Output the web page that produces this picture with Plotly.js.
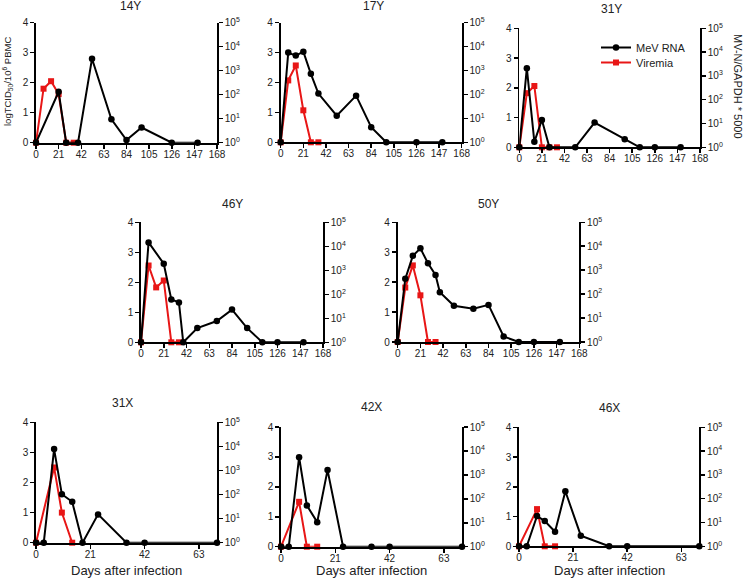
<!DOCTYPE html>
<html><head><meta charset="utf-8">
<script src="https://cdn.plot.ly/plotly-3.0.1.min.js"></script>
<style>html,body{margin:0;padding:0;background:#fff}#chart{width:744px;height:581px}</style>
</head><body><div id="chart"></div>
<script>
// ---------- DATA ----------
const panelNames = ['14Y','17Y','31Y','46Y','50Y','31X','42X','46X'];

// MeV RNA (MV-N/GAPDH * 5000, right log axis)
const rnaDays14Y = [0,21,28,39,52,70,84,98,126,150];
const rna14Y     = [1,133,1,1,3162,9.4,1.3,4.3,1,1];
const rnaDays17Y = [0,7,14,21,28,35,52,70,84,98,126,150];
const rna17Y     = [1,5623,4217,6131,729,109,13,89,4.3,1,1,1];
const rnaDays31Y = [0,7,14,21,28,52,70,98,112,126,150];
const rna31Y     = [1,2113,1.7,14.1,1,1,10.9,2.2,1,1,1];
const rnaDays46Y = [0,7,21,28,35,39,52,70,84,98,112,126,150];
const rna46Y     = [1,14537,1884,61,46,1,3.9,7.7,23,3.9,1,1,1];
const rnaDays50Y = [0,7,14,21,28,35,39,52,70,84,98,112,126,150];
const rna50Y     = [1,434,3981,8175,1939,631,119,32.5,24.4,35.5,1.7,1,1,1];
const rnaDays31X = [0,3,7,10,14,18,24,35,42,70];
const rna31X     = [1,1,7720,103,50,1,15,1,1,1];
const rnaDays42X = [0,3,7,10,14,18,24,35,42,70];
const rna42X     = [1,1,5464,53,10.6,1585,1,1,1,1];
const rnaDays46X = [0,3,7,10,14,18,24,35,42,70];
const rna46X     = [1,1,18.8,11.5,4.1,205,2.8,1,1,1];

// Viremia (logTCID50/10^6 PBMC, left axis)
const virDays14Y = [0,7,14,21,28,35];
const vir14Y     = [0,1.8,2.05,1.62,0,0];
const virDays17Y = [0,7,14,21,28,35];
const vir17Y     = [0,2.07,2.57,1.07,0,0];
const virDays31Y = [0,7,14,21,28,35];
const vir31Y     = [0,1.82,2.06,0,0,0];
const virDays46Y = [0,7,14,21,28,35];
const vir46Y     = [0,2.56,1.83,2.06,0,0];
const virDays50Y = [0,7,14,21,28,35];
const vir50Y     = [0,1.82,2.56,1.56,0,0];
const virDays31X = [0,7,10,14];
const vir31X     = [0,2.5,1.0,0];
const virDays42X = [0,7,10,14];
const vir42X     = [0,1.5,0,0];
const virDays46X = [0,7,10,14];
const vir46X     = [0,1.25,0,0];

const xTicksLong  = [0,21,42,63,84,105,126,147,168];
const xTicksShort = [0,21,42,63];
const leftTicks   = [0,1,2,3,4];
const rightTickVals = [1,10,100,1000,10000,100000];
const rightTickText = ['10<sup>0</sup>','10<sup>1</sup>','10<sup>2</sup>','10<sup>3</sup>','10<sup>4</sup>','10<sup>5</sup>'];

const seriesNames = ['MeV RNA','Viremia'];
const xTitle = 'Days after infection';
const leftTitle = 'logTCID<sub>50</sub>/10<sup>6</sup> PBMC';
const rightTitle = 'MV-N/GAPDH * 5000';

// ---------- LAYOUT GEOMETRY (pixels) ----------
const W = 744, H = 581;
// [left, right, top, bottom, titleX, titleY, xmax]
const boxes = {
  '14Y':[36,217,22.7,142.7,130,6,168],
  '17Y':[280.7,461.7,22.7,142.3,373,6,168],
  '31Y':[519.3,700,28.3,147.3,611,8.5,168],
  '46Y':[141,323,222.3,342.3,232,204,168],
  '50Y':[397.7,579.3,222.3,342,488,204,168],
  '31X':[36,217,422.3,542.7,122,403,70],
  '42X':[281,462,427,546.7,371,407.3,70],
  '46X':[519,699.3,427.3,546.3,609,407.7,70]
};

const rnaDays = {'14Y':rnaDays14Y,'17Y':rnaDays17Y,'31Y':rnaDays31Y,'46Y':rnaDays46Y,'50Y':rnaDays50Y,'31X':rnaDays31X,'42X':rnaDays42X,'46X':rnaDays46X};
const rnaVals = {'14Y':rna14Y,'17Y':rna17Y,'31Y':rna31Y,'46Y':rna46Y,'50Y':rna50Y,'31X':rna31X,'42X':rna42X,'46X':rna46X};
const virDays = {'14Y':virDays14Y,'17Y':virDays17Y,'31Y':virDays31Y,'46Y':virDays46Y,'50Y':virDays50Y,'31X':virDays31X,'42X':virDays42X,'46X':virDays46X};
const virVals = {'14Y':vir14Y,'17Y':vir17Y,'31Y':vir31Y,'46Y':vir46Y,'50Y':vir50Y,'31X':vir31X,'42X':vir42X,'46X':vir46X};

const FONT = 'Liberation Sans, Arial, Helvetica, sans-serif';
const RED = 'rgb(232,22,22)';
const BLACK = '#000';
const tickFont = {family: FONT, size: 10, color: '#222'};
const legFont = {family: FONT, size: 11, color: '#222'};

const traces = [];
const layout = {
  width: W, height: H,
  margin: {l:0, r:0, t:0, b:0},
  paper_bgcolor: '#fff', plot_bgcolor: 'rgba(0,0,0,0)',
  font: {family: FONT, color: '#222'},
  showlegend: true,
  legend:  {x: 596/W, y: 1-33/H, xanchor: 'left', yanchor: 'top', font: legFont,
            bgcolor: 'rgba(0,0,0,0)', itemwidth: 30},
  legend2: {x: 596/W, y: 1-48/H, xanchor: 'left', yanchor: 'top', font: legFont,
            bgcolor: 'rgba(0,0,0,0)', itemwidth: 30},
  annotations: []
};

panelNames.forEach((p, i) => {
  const b = boxes[p];
  const n = i + 1;
  const nr = i + 9;
  const xa = 'x' + (n === 1 ? '' : n);
  const ya = 'y' + (n === 1 ? '' : n);
  const yr = 'y' + nr;
  const xmax = b[6];
  const xdom = [b[0]/W, b[1]/W];
  const ydom = [1 - b[3]/H, 1 - b[2]/H];

  layout['xaxis' + (n === 1 ? '' : n)] = {
    domain: xdom, anchor: ya, range: [0, xmax],
    tickvals: xmax === 168 ? xTicksLong : xTicksShort,
    ticks: 'outside', ticklen: 4, tickwidth: 1.5, tickcolor: BLACK,
    ticklabelstandoff: -3,
    showline: true, linecolor: BLACK, linewidth: 1.8,
    showgrid: false, zeroline: false, tickfont: tickFont, fixedrange: true
  };
  layout['yaxis' + (n === 1 ? '' : n)] = {
    domain: ydom, anchor: xa, range: [0, 4], tickvals: leftTicks,
    ticks: 'outside', ticklen: 4, tickwidth: 1.5, tickcolor: BLACK,
    showline: true, linecolor: BLACK, linewidth: 1.8,
    showgrid: false, zeroline: false, tickfont: tickFont, fixedrange: true
  };
  layout['yaxis' + nr] = {
    domain: ydom, anchor: xa, overlaying: ya, side: 'right',
    type: 'log', range: [0, 5], tickvals: rightTickVals, ticktext: rightTickText,
    ticks: 'outside', ticklen: 4, tickwidth: 1.5, tickcolor: BLACK,
    showline: true, linecolor: BLACK, linewidth: 1.8,
    showgrid: false, zeroline: false, tickfont: tickFont, fixedrange: true
  };

  traces.push({
    type: 'scatter', mode: 'lines+markers', name: seriesNames[1],
    x: virDays[p], y: virVals[p], xaxis: xa, yaxis: ya,
    line: {color: RED, width: 2}, marker: {symbol: 'square', size: 6, color: RED},
    cliponaxis: false, showlegend: p === '31Y', legend: 'legend2'
  });
  traces.push({
    type: 'scatter', mode: 'lines+markers', name: seriesNames[0],
    x: rnaDays[p], y: rnaVals[p], xaxis: xa, yaxis: yr,
    line: {color: BLACK, width: 2}, marker: {symbol: 'circle', size: 6.5, color: BLACK},
    cliponaxis: false, showlegend: p === '31Y', legend: 'legend'
  });

  layout.annotations.push({
    text: p, xref: 'paper', yref: 'paper', x: b[4]/W, y: 1 - b[5]/H,
    xanchor: 'center', yanchor: 'middle', showarrow: false,
    font: {family: FONT, size: 12, color: '#222'}
  });
  if (xmax === 70) {
    layout.annotations.push({
      text: xTitle, xref: 'paper', yref: 'paper', x: ((b[0]+b[1])/2)/W, y: 1 - 570.5/H,
      xanchor: 'center', yanchor: 'middle', showarrow: false,
      font: {family: FONT, size: 13, color: '#222'}
    });
  }
});

layout.annotations.push({
  text: leftTitle, xref: 'paper', yref: 'paper', x: 8/W, y: 1 - 82/H,
  xanchor: 'center', yanchor: 'middle', textangle: -90, showarrow: false,
  font: {family: FONT, size: 9.5, color: '#222'}
});
layout.annotations.push({
  text: rightTitle, xref: 'paper', yref: 'paper', x: 738/W, y: 1 - 86/H,
  xanchor: 'center', yanchor: 'middle', textangle: 90, showarrow: false,
  font: {family: FONT, size: 11, color: '#222'}
});

Plotly.newPlot('chart', traces, layout, {displayModeBar: false, staticPlot: true});
</script>
</body></html>
